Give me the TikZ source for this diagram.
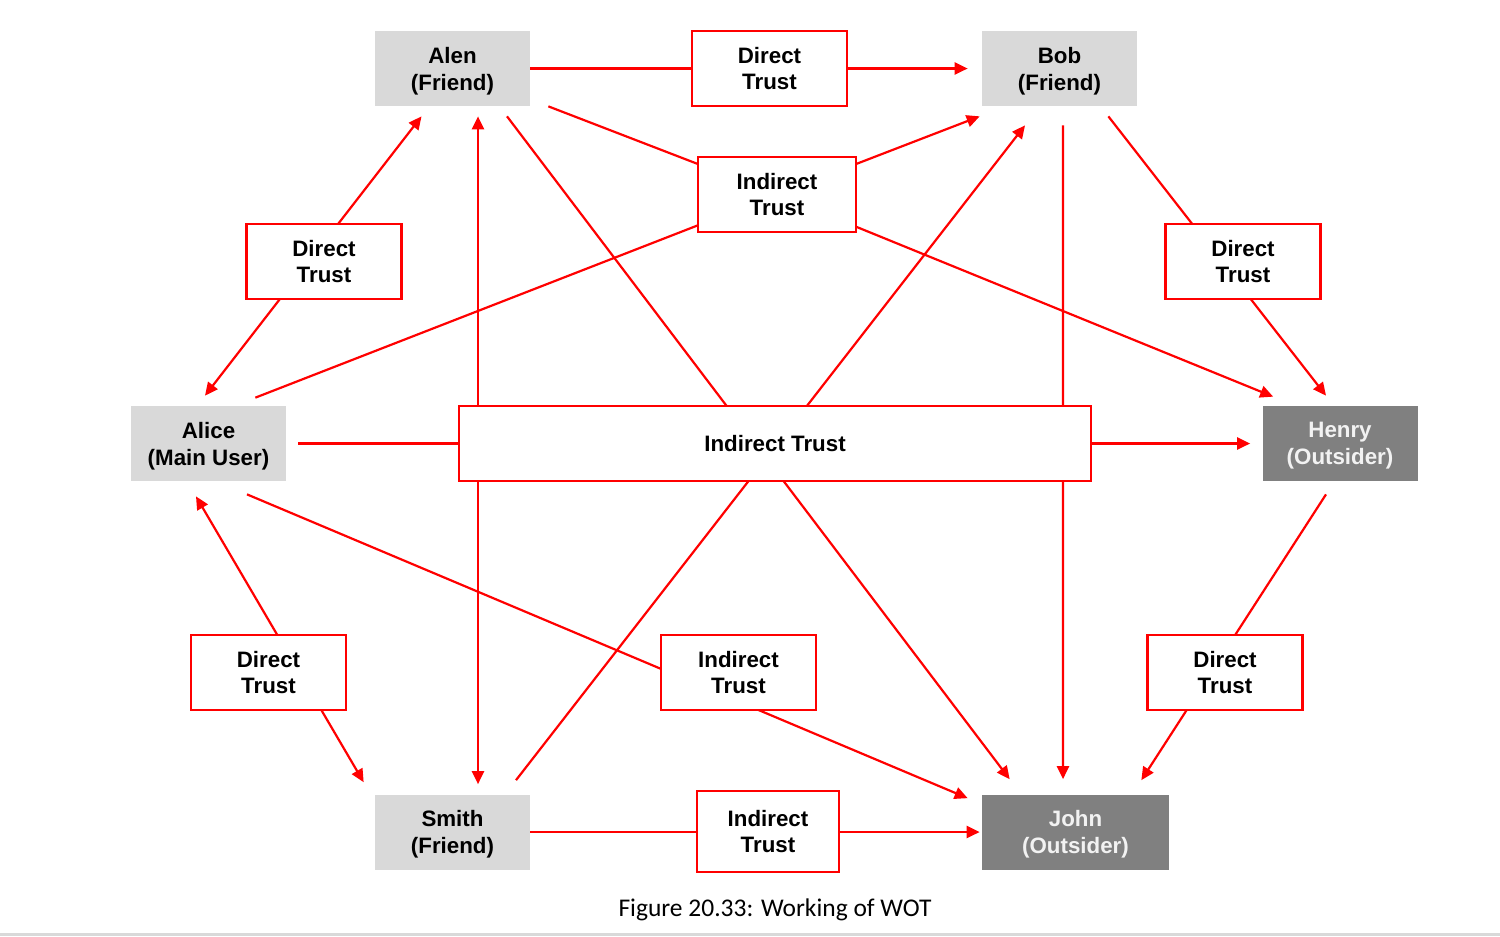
\documentclass[tikz,border=0pt]{standalone}
\usepackage{fontspec}
\setmainfont{Liberation Sans}
\newfontfamily\captionfont{Carlito}
\usetikzlibrary{arrows.meta,calc,backgrounds}
\definecolor{wotred}{HTML}{FF0000}
\definecolor{friendgray}{HTML}{D9D9D9}
\definecolor{outsidergray}{HTML}{808080}
\definecolor{outsidertext}{HTML}{F2F2F2}
\begin{document}
\begin{tikzpicture}[
	person/.style={fill=friendgray,text=black,minimum width=3.1cm,minimum height=1.5cm,align=center,text depth=0pt,font=\fontsize{12.7}{15.3}\selectfont\bfseries},
	outsider/.style={person,fill=outsidergray,text=outsidertext},
	trust/.style={draw=wotred,line width=1.25pt,fill=white,minimum width=3.1cm,minimum height=1.5cm,align=center,font=\fontsize{12.7}{15.3}\selectfont\bfseries},
	link/.style={draw=wotred,line width=1.25pt},
	>={Triangle[length=0.26cm,width=0.24cm]}
	]
	\useasboundingbox (0,0) rectangle (30,-18.72);
	% people
	\node[person] (alen) at (9.05,-1.37) {Alen\\(Friend)};
	\node[person] (bob) at (21.19,-1.37) {Bob\\(Friend)};
	\node[person] (alice) at (4.17,-8.87) {Alice\\(Main User)};
	\node[outsider] (henry) at (26.8,-8.87) {Henry\\(Outsider)};
	\node[person] (smith) at (9.05,-16.64) {Smith\\(Friend)};
	\node[outsider,minimum width=3.74cm] (john) at (21.51,-16.64) {John\\(Outsider)};
	% trust labels
	\node[trust] (dtTop) at (15.39,-1.37) {Direct\\Trust};
	\node[trust,minimum width=3.16cm] (itTop) at (15.54,-3.89) {Indirect\\Trust};
	\node[trust] (dtLeftUp) at (6.48,-5.23) {Direct\\Trust};
	\node[trust] (dtRightUp) at (24.86,-5.23) {Direct\\Trust};
	\node[trust,minimum width=12.64cm] (itCentre) at (15.5,-8.87) {Indirect Trust};
	\node[trust] (dtLeftLow) at (5.37,-13.45) {Direct\\Trust};
	\node[trust] (itLowMid) at (14.77,-13.45) {Indirect\\Trust};
	\node[trust] (dtRightLow) at (24.5,-13.45) {Direct\\Trust};
	\node[trust,minimum width=2.84cm,minimum height=1.62cm] (itBottom) at (15.36,-16.63) {Indirect\\Trust};
	% connectors
	\begin{scope}[on background layer]
	\draw[link,->,shorten >=0.28cm] (alen) -- (bob);
	\draw[link,->] ($(alen.south east)+(0.36,0)$) -- (itTop.center) -- ($(bob.south west)+(-0.04,-0.2)$);
	\draw[link,->] ($(alice.north east)+(-0.62,0.16)$) -- (itTop.center) -- ($(henry.north west)+(0.22,0.18)$);
	\draw[link,<->] ($(alice.north)+(-0.07,0.2)$) -- ($(alen.south)+(-0.62,-0.2)$);
	\draw[link,->] ($(alen.south)+(1.09,-0.2)$) -- ($(john.north west)+(0.56,0.3)$);
	\draw[link,<->] ($(alen.south)+(0.51,-0.2)$) -- ($(smith.north)+(0.51,0.2)$);
	\draw[link,->] ($(smith.north)+(1.27,0.28)$) -- ($(bob.south)+(-0.69,-0.38)$);
	\draw[link,->] ($(bob.south)+(0.07,-0.38)$) -- ($(john.north)+(-0.25,0.3)$);
	\draw[link,->] ($(bob.south east)+(-0.58,-0.2)$) -- ($(henry.north)+(-0.28,0.2)$);
	\draw[link,->,shorten <=0.24cm,shorten >=0.24cm] (alice) -- (henry);
	\draw[link,->] ($(alice.south)+(0.77,-0.26)$) -- ($(john.north west)+(-0.28,-0.08)$);
	\draw[link,<->] ($(alice.south)+(-0.25,-0.3)$) -- ($(smith.north west)+(-0.22,0.24)$);
	\draw[link,->] ($(henry.south)+(-0.28,-0.26)$) -- ($(john.north east)+(-0.56,0.28)$);
	\draw[link,->,shorten >=0.04cm] (smith) -- (john);
	\end{scope}
	% caption and page rule
	\node[font=\captionfont\fontsize{14.5}{17}\selectfont] (caption) at (15.5,-18.2) {Figure 20.33: Working of WOT};
	\fill[friendgray] (0,-18.66) rectangle (30,-18.72);
\end{tikzpicture}
\end{document}
